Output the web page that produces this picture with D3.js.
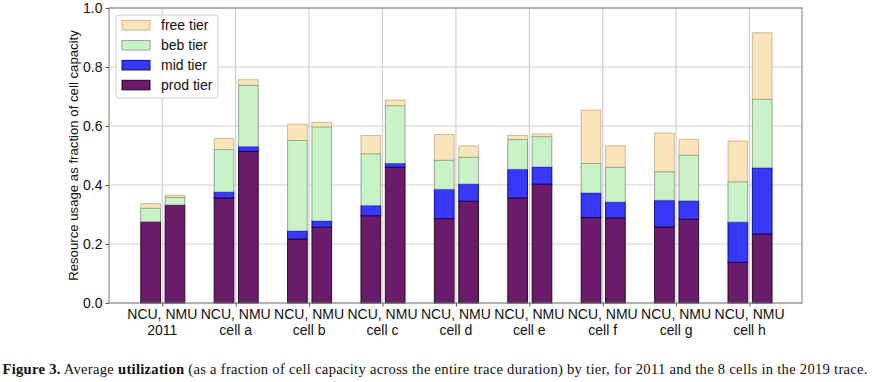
<!DOCTYPE html>
<html><head><meta charset="utf-8">
<script src="https://cdn.jsdelivr.net/npm/d3@7"></script>
<style>
html,body{margin:0;padding:0;background:#fff;}
svg{display:block;}
</style></head>
<body>
<svg id="chart" width="874" height="382"></svg>
<script>
// ---- data ----
const categories = ["2011","cell a","cell b","cell c","cell d","cell e","cell f","cell g","cell h"];
const barKinds = ["NCU","NMU"];
const tiers = ["prod tier","mid tier","beb tier","free tier"];
// per-tier values (stacked bottom to top: prod, mid, beb, free)
const ncuProd = [0.275,0.356,0.217,0.296,0.286,0.356,0.290,0.258,0.138];
const ncuMid  = [0.000,0.020,0.027,0.034,0.099,0.097,0.083,0.090,0.136];
const ncuBeb  = [0.046,0.144,0.307,0.176,0.099,0.101,0.100,0.097,0.137];
const ncuFree = [0.016,0.038,0.055,0.062,0.087,0.014,0.181,0.131,0.138];
const nmuProd = [0.332,0.514,0.257,0.460,0.345,0.403,0.288,0.284,0.234];
const nmuMid  = [0.000,0.016,0.021,0.013,0.058,0.058,0.054,0.062,0.224];
const nmuBeb  = [0.026,0.208,0.319,0.196,0.091,0.103,0.118,0.155,0.233];
const nmuFree = [0.007,0.019,0.015,0.019,0.039,0.009,0.073,0.054,0.225];
const yTicks = [0.0,0.2,0.4,0.6,0.8,1.0];
const yLabel = "Resource usage as fraction of cell capacity";
const tickLine1 = "NCU, NMU";

const tierStyle = {
  "prod tier": {fill:"#6a1b6b", stroke:"#1a001a", so:0.9},
  "mid tier":  {fill:"#3838f8", stroke:"#00008a", so:0.9},
  "beb tier":  {fill:"#c9f2c6", stroke:"#556655", so:0.55},
  "free tier": {fill:"#fbe4b9", stroke:"#8a7a5a", so:0.45}
};

const svg = d3.select("#chart");
const font = "'Liberation Sans', Arial, Helvetica, sans-serif";
const L=109, R=802, T=8, B=303;

const x = d3.scaleLinear().domain([-0.726, 8.715]).range([L, R]);
const y = d3.scaleLinear().domain([0,1]).range([B, T]);
const barW = 0.268, barOff = 0.166;

// grid
const g = svg.append("g");
g.selectAll("line.hg").data(yTicks).join("line")
  .attr("x1",L).attr("x2",R).attr("y1",d=>y(d)).attr("y2",d=>y(d))
  .attr("stroke","#d2d2d2").attr("stroke-width",1.2);
g.selectAll("line.vg").data(categories).join("line")
  .attr("x1",(d,i)=>x(i)).attr("x2",(d,i)=>x(i)).attr("y1",T).attr("y2",B)
  .attr("stroke","#cfcfcf").attr("stroke-width",1.2);

// stacked data
const series = {
  NCU: [ncuProd,ncuMid,ncuBeb,ncuFree],
  NMU: [nmuProd,nmuMid,nmuBeb,nmuFree]
};
const rects = [];
barKinds.forEach((k,ki)=>{
  categories.forEach((c,ci)=>{
    let base = 0;
    tiers.forEach((t,ti)=>{
      const v = series[k][ti][ci];
      rects.push({k, ci, t, y0:base, y1:base+v, off:(ki===0?-barOff:barOff)});
      base += v;
    });
  });
});
const bx = d => x(d.ci + d.off - barW/2);
svg.append("g").selectAll("rect").data(rects.filter(d=>d.y1-d.y0>0)).join("rect")
  .attr("x", d=>bx(d)+0.5)
  .attr("width", d=>x(d.ci+d.off+barW/2)-x(d.ci+d.off-barW/2))
  .attr("y", d=>y(d.y1))
  .attr("height", d=>y(d.y0)-y(d.y1))
  .attr("fill", d=>tierStyle[d.t].fill)
  .attr("stroke", d=>tierStyle[d.t].stroke)
  .attr("stroke-opacity", d=>tierStyle[d.t].so)
  .attr("stroke-width",1);

// axes frame
svg.append("rect").attr("x",L).attr("y",T).attr("width",R-L).attr("height",B-T)
  .attr("fill","none").attr("stroke","#7a7a7a").attr("stroke-width",1);

// y axis
const yAxis = d3.axisLeft(y).tickValues(yTicks).tickFormat(d3.format(".1f")).tickSize(3.5).tickPadding(3);
const ya = svg.append("g").attr("transform",`translate(${L},0)`).call(yAxis);
ya.select(".domain").remove();
ya.selectAll(".tick line").attr("stroke","#555");
ya.selectAll(".tick text").attr("font-family",font).attr("font-size",14).attr("fill","#111");

// x axis
const xAxis = d3.axisBottom(x).tickValues(d3.range(categories.length)).tickFormat("").tickSize(3.5);
const xa = svg.append("g").attr("transform",`translate(0,${B})`).call(xAxis);
xa.select(".domain").remove();
xa.selectAll(".tick line").attr("stroke","#555");
const xl = svg.append("g");
xl.selectAll("text.l1").data(categories).join("text")
  .attr("class","l1").attr("text-anchor","middle")
  .attr("x",(d,i)=>x(i)).attr("y",318.8)
  .attr("font-family",font).attr("font-size",14).attr("fill","#111").text(tickLine1);
xl.selectAll("text.l2").data(categories).join("text")
  .attr("class","l2").attr("text-anchor","middle")
  .attr("x",(d,i)=>x(i)).attr("y",334.6)
  .attr("font-family",font).attr("font-size",14).attr("fill","#111").text(d=>d);

// y label
svg.append("text").attr("transform",`translate(78,${(T+B)/2}) rotate(-90)`)
  .attr("text-anchor","middle").attr("font-family",font).attr("font-size",13.2).attr("fill","#111")
  .text(yLabel);

// legend
const leg = svg.append("g");
leg.append("rect").attr("x",116).attr("y",15).attr("width",102).attr("height",83).attr("rx",3)
  .attr("fill","#fff").attr("fill-opacity",0.85).attr("stroke","#d0d0d0");
const legOrder = tiers.slice().reverse();
legOrder.forEach((t,i)=>{
  const cy = 25.3 + i*19.9;
  leg.append("rect").attr("x",122).attr("y",cy-4.7).attr("width",28).attr("height",9.6)
    .attr("fill",tierStyle[t].fill).attr("stroke",tierStyle[t].stroke).attr("stroke-opacity",tierStyle[t].so);
  leg.append("text").attr("x",161).attr("y",cy+5).attr("font-family",font).attr("font-size",14)
    .attr("fill","#111").text(t);
});

// caption
const cap = svg.append("text").attr("x",2.5).attr("y",374)
  .attr("font-family","'Liberation Serif','DejaVu Serif',serif").attr("font-size",14.6).attr("fill","#111")
  .attr("textLength",865).attr("lengthAdjust","spacing");
cap.append("tspan").attr("font-weight","bold").text("Figure 3.");
cap.append("tspan").text(" Average ");
cap.append("tspan").attr("font-weight","bold").text("utilization");
cap.append("tspan").text(" (as a fraction of cell capacity across the entire trace duration) by tier, for 2011 and the 8 cells in the 2019 trace.");
</script>
</body></html>
